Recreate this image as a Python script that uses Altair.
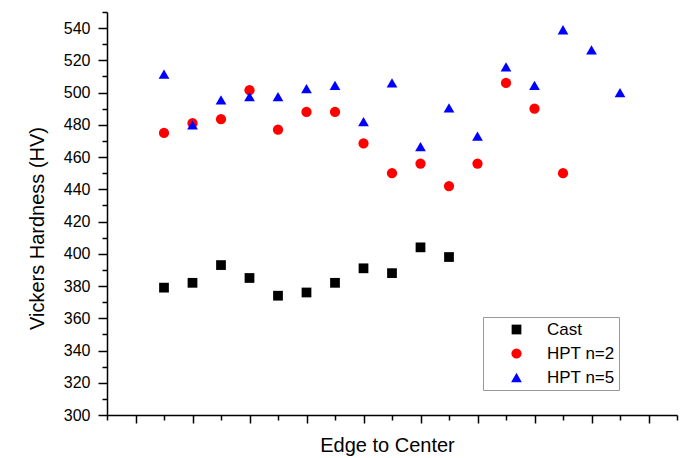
import altair as alt
import pandas as pd

series_names = ["Cast", "HPT n=2", "HPT n=5"]
series_colors = ["#000000", "#ff0000", "#0000ff"]
series_shapes = ["square", "circle", "triangle-up"]

cast_x = [2, 3, 4, 5, 6, 7, 8, 9, 10, 11, 12]
cast_hv = [379, 382, 393, 385, 374, 376, 382, 391, 388, 404, 398]

hpt2_x = [2, 3, 4, 5, 6, 7, 8, 9, 10, 11, 12, 13, 14, 15, 16]
hpt2_hv = [475, 481, 483.5, 501.5, 477, 488, 488, 468.5, 450, 456, 442, 456, 506, 490, 450]

hpt5_x = [2, 3, 4, 5, 6, 7, 8, 9, 10, 11, 12, 13, 14, 15, 16, 17, 18]
hpt5_hv = [511.5, 480, 495.5, 497.5, 497.5, 502.5, 504.5, 482, 506, 466.5, 490.5, 473, 516, 504.5, 539, 526.5, 500]

y_tick_values = list(range(300, 551, 10))
x_tick_values = list(range(0, 21))

rows = []
for name, xs, ys in zip(series_names, [cast_x, hpt2_x, hpt5_x], [cast_hv, hpt2_hv, hpt5_hv]):
    for xv, yv in zip(xs, ys):
        rows.append({"pos": xv, "hv": yv, "series": name})
df = pd.DataFrame(rows)

FONT = "Liberation Sans"

chart = alt.Chart(df).mark_point(filled=True, opacity=1).encode(
    x=alt.X("pos:Q", scale=alt.Scale(domain=[0, 20], nice=False, zero=False),
            axis=alt.Axis(values=x_tick_values, labels=False, grid=False,
                          title="Edge to Center", titleFontSize=20, titleFont=FONT,
                          titleFontWeight="normal", titleColor="#000000",
                          titleBaseline="alphabetic", titleY=36, titleX=280,
                          tickSize={"condition": {"test": "datum.value % 2 === 1", "value": 8}, "value": 5},
                          tickColor="#000000", tickWidth=1.5,
                          domainColor="#000000", domainWidth=1.5)),
    y=alt.Y("hv:Q", scale=alt.Scale(domain=[300, 550], nice=False, zero=False),
            axis=alt.Axis(values=y_tick_values, grid=False,
                          labelExpr="datum.value % 20 === 0 ? datum.label : ''",
                          labelOverlap=False, labelFontSize=16, labelFont=FONT,
                          labelColor="#000000", labelPadding=8,
                          title="Vickers Hardness (HV)", titleFontSize=20, titleFont=FONT,
                          titleFontWeight="normal", titleColor="#000000",
                          titleBaseline="alphabetic", titleAlign="center",
                          titleX=-64, titleY=216,
                          tickSize={"condition": {"test": "datum.value % 20 === 0", "value": 9}, "value": 5},
                          tickColor="#000000", tickWidth=1.5,
                          domainColor="#000000", domainWidth=1.5)),
    color=alt.Color("series:N", scale=alt.Scale(domain=series_names, range=series_colors),
                    legend=alt.Legend(orient="none", legendX=376, legendY=305, title=None,
                                      strokeColor="#999999", fillColor="#ffffff",
                                      padding=4, rowPadding=6, symbolOffset=21, labelOffset=22,
                                      labelFontSize=17, labelFont=FONT, labelColor="#000000",
                                      labelExpr="datum.label + '\u00a0\u00a0\u00a0'",
                                      symbolSize=120)),
    shape=alt.Shape("series:N", scale=alt.Scale(domain=series_names, range=series_shapes)),
    size=alt.Size("series:N", scale=alt.Scale(domain=series_names, range=[95, 115, 200]), legend=None),
).properties(
    width=570, height=403,
    autosize=alt.AutoSizeParams(type="none"),
    padding={"left": 107, "top": 12, "right": 6, "bottom": 43},
    background="#ffffff",
).configure_view(strokeOpacity=0)

chart.save("out.html", embed_options={"renderer": "svg", "actions": False})
